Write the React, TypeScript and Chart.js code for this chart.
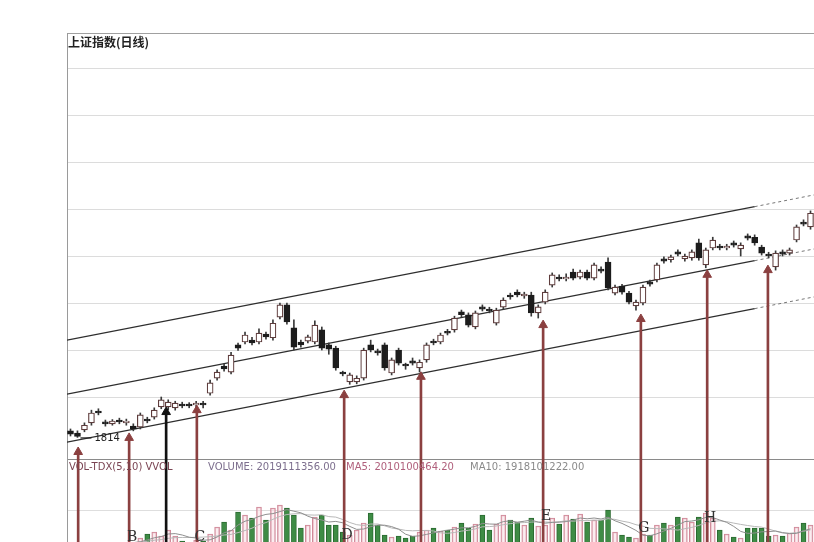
import React, { useEffect, useRef } from 'react';
import { Chart, registerables } from 'chart.js';

Chart.register(...registerables);

// ---- Daily candles (index points) ----
const openP = [
  1828, 1823, 1830, 1845, 1870, 1847, 1843, 1851, 1845, 1838,
  1836, 1853, 1857, 1879, 1879, 1877, 1885, 1885, 1883, 1887,
  1908, 1940, 1966, 1953, 2011, 2017, 2021, 2017, 2034, 2026,
  2070, 2096, 2047, 2017, 2019, 2017, 2043, 2011, 2004, 1953,
  1932, 1932, 1940, 2011, 1998, 2011, 1951, 2000, 1970, 1977,
  1962, 1979, 2019, 2017, 2040, 2043, 2081, 2075, 2049, 2092,
  2087, 2057, 2091, 2117, 2123, 2115, 2117, 2079, 2102, 2138,
  2155, 2151, 2166, 2155, 2166, 2153, 2172, 2187, 2121, 2136,
  2121, 2094, 2100, 2145, 2149, 2194, 2192, 2209, 2194, 2196,
  2228, 2181, 2217, 2221, 2217, 2228, 2215, 2243, 2240, 2219,
  2204, 2177, 2209, 2206, 2234, 2272, 2262,
];
const highP = [
  1832, 1828, 1845, 1872, 1875, 1851, 1852, 1855, 1853, 1843,
  1866, 1857, 1877, 1900, 1894, 1891, 1889, 1888, 1891, 1891,
  1936, 1958, 1970, 1995, 2015, 2038, 2027, 2045, 2038, 2064,
  2100, 2100, 2064, 2021, 2032, 2062, 2049, 2015, 2008, 1955,
  1951, 1945, 2004, 2021, 2002, 2015, 1983, 2004, 1972, 1983,
  1979, 2015, 2023, 2036, 2044, 2072, 2085, 2079, 2083, 2096,
  2091, 2089, 2111, 2121, 2128, 2123, 2123, 2096, 2128, 2164,
  2160, 2162, 2172, 2170, 2170, 2185, 2177, 2196, 2138, 2140,
  2125, 2106, 2138, 2149, 2185, 2198, 2202, 2213, 2204, 2213,
  2236, 2217, 2240, 2225, 2225, 2232, 2228, 2247, 2245, 2223,
  2208, 2211, 2213, 2217, 2266, 2277, 2296,
];
const lowP = [
  1817, 1814, 1826, 1840, 1862, 1838, 1840, 1843, 1840, 1828,
  1832, 1845, 1853, 1875, 1873, 1872, 1877, 1877, 1879, 1877,
  1904, 1936, 1955, 1949, 1999, 2013, 2011, 2013, 2023, 2021,
  2066, 2055, 2000, 2006, 2015, 2013, 2000, 1991, 1957, 1945,
  1927, 1928, 1936, 1996, 1989, 1957, 1947, 1968, 1959, 1968,
  1953, 1974, 2011, 2013, 2032, 2038, 2070, 2049, 2045, 2083,
  2079, 2053, 2087, 2108, 2113, 2110, 2072, 2068, 2098, 2134,
  2147, 2147, 2149, 2151, 2149, 2149, 2164, 2128, 2117, 2119,
  2098, 2085, 2096, 2136, 2145, 2185, 2187, 2200, 2189, 2191,
  2191, 2175, 2213, 2213, 2213, 2219, 2200, 2234, 2223, 2202,
  2196, 2170, 2200, 2202, 2230, 2264, 2257,
];
const closeP = [
  1821, 1816, 1840, 1866, 1866, 1843, 1849, 1847, 1849, 1832,
  1862, 1849, 1872, 1894, 1889, 1887, 1881, 1881, 1887, 1883,
  1930, 1953, 1960, 1989, 2004, 2032, 2015, 2036, 2028, 2057,
  2096, 2060, 2006, 2011, 2028, 2053, 2004, 2002, 1962, 1949,
  1947, 1940, 2000, 2000, 1994, 1962, 1979, 1972, 1966, 1972,
  1974, 2011, 2015, 2032, 2036, 2068, 2075, 2053, 2079, 2087,
  2083, 2085, 2106, 2113, 2117, 2119, 2079, 2092, 2123, 2160,
  2151, 2155, 2153, 2166, 2153, 2181, 2168, 2132, 2134, 2123,
  2102, 2102, 2134, 2140, 2181, 2189, 2198, 2204, 2200, 2209,
  2196, 2213, 2234, 2217, 2221, 2223, 2223, 2238, 2228, 2206,
  2200, 2206, 2204, 2213, 2262, 2268, 2291,
];

// ---- Volume ----
const volumes = [
  520, 560, 540, 580, 560, 540, 570, 550, 580, 560,
  840, 1080, 1200, 960, 1320, 960, 660, 540, 720, 660,
  1080, 1500, 1800, 1320, 2400, 2220, 2040, 2700, 1920, 2640,
  2820, 2640, 2220, 1440, 1620, 2100, 2220, 1620, 1620, 1200,
  1020, 1320, 1740, 2340, 1620, 1020, 900, 960, 840, 960,
  1200, 1320, 1440, 1260, 1320, 1500, 1740, 1440, 1680, 2220,
  1320, 1680, 2220, 1920, 1800, 1620, 2040, 1560, 1620, 2040,
  1680, 2220, 1980, 2280, 1800, 1920, 1920, 2520, 1200, 1020,
  900, 840, 1080, 1020, 1620, 1740, 1620, 2100, 2040, 1800,
  2100, 2340, 2040, 1320, 1080, 900, 840, 1440, 1440, 1440,
  960, 1020, 960, 1140, 1500, 1740, 1620,
];

// ---- Channel lines: values at start, end of solid part, end of dotted part ----
const channelX = [-0.5, 98, 106.5];
const upperChannel = [2021, 2305, 2330];
const middleChannel = [1906, 2190, 2215];
const lowerChannel = [1804, 2088, 2113];

// ---- Arrows (position in trading days, tip price) ----
const arrowDay = [1.1, 8.4, 13.7, 18.1, 39.2, 50.2, 67.7, 81.7, 91.2, 99.9];
const arrowTip = [1783, 1813, 1868, 1872, 1904, 1943, 2053, 2066, 2160, 2170];
const arrowLabels = ['', 'B', '', 'C', 'D', '', 'E', 'G', 'H', ''];
const arrowLabelLevel = [0, 900, 0, 900, 1020, 0, 2160, 1440, 2040, 0];

// ---- Grid levels ----
const priceGrid = [1766, 1900, 2000, 2100, 2200, 2300, 2400, 2500, 2600];
const volGrid = [2520];

const PRICE_MIN = 1591.5;
const PRICE_MAX = 2674.5;
const VOL_MIN = 600;
const VOL_MAX = 31140;

const annotPlugin = {
  id: 'annot',
  afterDatasetsDraw(chart: any) {
    const { ctx, scales } = chart;
    const xs = scales.x;
    const ys = scales.y;
    const yv = scales.yv;
    ctx.save();
    // arrow letters
    ctx.font = '14px "DejaVu Serif"';
    ctx.fillStyle = '#333333';
    ctx.textAlign = 'center';
    ctx.textBaseline = 'middle';
    arrowLabels.forEach((t, k) => {
      if (!t) return;
      ctx.fillText(t, xs.getPixelForValue(arrowDay[k]) + 3, yv.getPixelForValue(arrowLabelLevel[k]));
    });
    // lowest low label
    let mi = 0;
    lowP.forEach((v, i) => { if (v < lowP[mi]) mi = i; });
    const px = xs.getPixelForValue(mi);
    const py = ys.getPixelForValue(lowP[mi]);
    ctx.strokeStyle = '#222';
    ctx.lineWidth = 1.2;
    ctx.beginPath();
    ctx.moveTo(px + 3, py + 0.5);
    ctx.lineTo(px + 14, py + 0.5);
    ctx.stroke();
    ctx.font = '10px "DejaVu Sans"';
    ctx.fillStyle = '#222';
    ctx.textAlign = 'left';
    ctx.fillText(String(lowP[mi]), px + 17, py + 1);
    ctx.restore();
  },
};

export default function App() {
  const ref = useRef<HTMLCanvasElement>(null);

  useEffect(() => {
    if (!ref.current) return;
    const idx = openP.map((_, i) => i);
    const up = idx.map((i) => closeP[i] >= openP[i]);
    const ma = (n: number) =>
      volumes.map((_, i) =>
        i < n - 1 ? null : volumes.slice(i - n + 1, i + 1).reduce((a, b) => a + b, 0) / n
      );
    const ma5 = ma(5);
    const ma10 = ma(10);
    const arrowColors = arrowDay.map((_, k) => (k === 2 ? '#111111' : '#8b4040'));

    const chart = new Chart(ref.current, {
      type: 'bar',
      data: {
        datasets: [
          // volume bars
          {
            type: 'bar',
            yAxisID: 'yv',
            data: idx.map((i) => ({ x: i, y: volumes[i] })) as any,
            backgroundColor: idx.map((i) => (up[i] ? 'rgba(248,222,228,0.55)' : '#3e8c45')),
            borderColor: idx.map((i) => (up[i] ? '#d08898' : '#2b6a31')),
            borderWidth: 1,
            borderSkipped: false,
            barThickness: 5,
            grouped: false,
            order: 9,
          } as any,
          {
            type: 'line',
            yAxisID: 'yv',
            data: idx.map((i) => ({ x: i, y: ma5[i] })) as any,
            borderColor: '#8f8f8f',
            borderWidth: 1,
            pointRadius: 0,
            order: 8,
          } as any,
          {
            type: 'line',
            yAxisID: 'yv',
            data: idx.map((i) => ({ x: i, y: ma10[i] })) as any,
            borderColor: '#b8b8b8',
            borderWidth: 1,
            pointRadius: 0,
            order: 8,
          } as any,
          // channel solid
          ...[upperChannel, middleChannel, lowerChannel].map((c) => ({
            type: 'line',
            yAxisID: 'y',
            data: [
              { x: channelX[0], y: c[0] },
              { x: channelX[1], y: c[1] },
            ],
            borderColor: '#2e2e2e',
            borderWidth: 1.3,
            pointRadius: 0,
            order: 7,
          })),
          // channel dotted extension
          ...[upperChannel, middleChannel, lowerChannel].map((c) => ({
            type: 'line',
            yAxisID: 'y',
            data: [
              { x: channelX[1], y: c[1] },
              { x: channelX[2], y: c[2] },
            ],
            borderColor: '#777777',
            borderWidth: 1,
            borderDash: [3, 3],
            pointRadius: 0,
            order: 7,
          })),
          // wicks
          {
            type: 'bar',
            yAxisID: 'y',
            data: idx.map((i) => ({ x: i, y: [lowP[i], highP[i]] })) as any,
            backgroundColor: '#3a3a3a',
            barThickness: 1,
            grouped: false,
            order: 6,
          } as any,
          // bodies
          {
            type: 'bar',
            yAxisID: 'y',
            data: idx.map((i) => ({ x: i, y: [openP[i], closeP[i]] })) as any,
            backgroundColor: idx.map((i) => (up[i] ? '#ffffff' : '#1c1c1c')),
            borderColor: idx.map((i) => (up[i] ? '#5e3c3c' : '#1c1c1c')),
            borderWidth: 1.2,
            borderSkipped: false,
            barThickness: 6,
            grouped: false,
            order: 5,
          } as any,
          // arrow shafts
          {
            type: 'bar',
            yAxisID: 'y',
            data: arrowDay.map((d, k) => ({ x: d, y: [PRICE_MIN - 40, arrowTip[k]] })) as any,
            backgroundColor: arrowColors,
            barThickness: 2,
            grouped: false,
            order: 2,
          } as any,
          // arrow heads
          {
            type: 'line',
            yAxisID: 'y',
            data: arrowDay.map((d, k) => ({ x: d, y: arrowTip[k] })) as any,
            showLine: false,
            pointStyle: 'triangle',
            pointRadius: 5,
            pointBackgroundColor: arrowColors,
            pointBorderColor: arrowColors,
            pointBorderWidth: 1,
            order: 1,
          } as any,
        ] as any,
      },
      options: {
        animation: false,
        responsive: false,
        maintainAspectRatio: false,
        devicePixelRatio: 1,
        events: [],
        layout: { autoPadding: false, padding: { left: 67, top: 33, right: 0, bottom: 0 } },
        plugins: { legend: { display: false }, tooltip: { enabled: false } },
        scales: {
          x: {
            type: 'linear',
            min: -0.5,
            max: openP.length - 0.5,
            display: false,
            offset: false,
          },
          y: {
            type: 'linear',
            position: 'left',
            min: PRICE_MIN,
            max: PRICE_MAX,
            afterFit: (s: any) => { s.width = 0; },
            afterBuildTicks: (s: any) => {
              s.ticks = [...priceGrid, PRICE_MAX].map((v) => ({ value: v }));
            },
            ticks: { display: false },
            grid: {
              drawTicks: false,
              lineWidth: 1,
              color: (c: any) =>
                c.tick && c.tick.value === PRICE_MAX
                  ? '#a0a0a0'
                  : c.tick && c.tick.value === priceGrid[0]
                  ? '#8a8a8a'
                  : '#dcdcdc',
            },
            border: { display: true, color: '#9a9a9a' },
          },
          yv: {
            type: 'linear',
            position: 'left',
            min: VOL_MIN,
            max: VOL_MAX,
            afterFit: (s: any) => { s.width = 0; },
            afterBuildTicks: (s: any) => {
              s.ticks = volGrid.map((v) => ({ value: v }));
            },
            ticks: { display: false },
            grid: { drawTicks: false, color: '#dedede', lineWidth: 1 },
            border: { display: false },
          },
        } as any,
      },
      plugins: [annotPlugin as any],
    } as any);
    return () => chart.destroy();
  }, []);

  const lbl: React.CSSProperties = {
    position: 'absolute',
    top: 461,
    fontFamily: '"DejaVu Sans", sans-serif',
    fontSize: 10,
    lineHeight: '12px',
    whiteSpace: 'nowrap',
  };

  return (
    <div
      style={{
        position: 'absolute',
        left: 0,
        top: 0,
        width: 814,
        height: 542,
        background: '#ffffff',
        overflow: 'hidden',
      }}
    >
      <canvas
        ref={ref}
        width={814}
        height={542}
        style={{ position: 'absolute', left: 0, top: 0, width: 814, height: 542 }}
      />
      <div
        style={{
          position: 'absolute',
          left: 68,
          top: 35,
          fontFamily: '"Noto Sans CJK SC", sans-serif',
          fontSize: 12,
          fontWeight: 700,
          color: '#222',
          lineHeight: '14px',
        }}
      >
        上证指数(日线)
      </div>
      <div style={{ ...lbl, left: 69, color: '#7a4453' }}>VOL-TDX(5,10) VVOL</div>
      <div style={{ ...lbl, left: 208, color: '#7d6f8e' }}>VOLUME: 2019111356.00</div>
      <div style={{ ...lbl, left: 346, color: '#b0607c' }}>MA5: 2010100464.20</div>
      <div style={{ ...lbl, left: 470, color: '#8a8a8a' }}>MA10: 1918101222.00</div>
    </div>
  );
}
